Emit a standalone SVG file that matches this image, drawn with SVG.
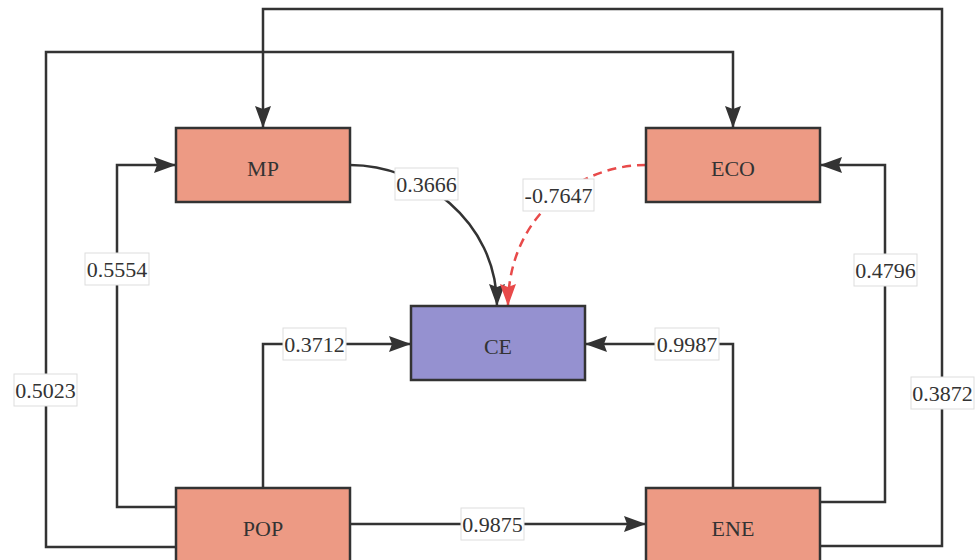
<svg xmlns="http://www.w3.org/2000/svg" width="979" height="560" viewBox="0 0 979 560">
<style>
.bg{fill:#ffffff}
.edge{fill:none;stroke:#333333;stroke-width:2.5;stroke-linejoin:miter}
.neg{fill:none;stroke:#e84a4a;stroke-width:2.5;stroke-dasharray:9,6}
.node rect{stroke:#333333;stroke-width:2.5}
.warm{fill:#ED9A84}
.cool{fill:#9591D0}
.ntext{font-family:"Liberation Serif","Times New Roman",serif;font-size:22px;fill:#333333;text-anchor:middle}
.lbox{fill:#ffffff;stroke:#dddddd;stroke-width:1}
.ltext{font-family:"Liberation Serif","Times New Roman",serif;font-size:22px;fill:#333333;text-anchor:middle}
</style>
<defs>
<marker id="ah" markerUnits="userSpaceOnUse" markerWidth="22" markerHeight="16" refX="22" refY="8" orient="auto" viewBox="0 0 22 16">
<path d="M0,0 L22,8 L0,16 L3,8 Z" fill="#333333"/>
</marker>
<marker id="ahr" markerUnits="userSpaceOnUse" markerWidth="22" markerHeight="16" refX="22" refY="8" orient="auto" viewBox="0 0 22 16">
<path d="M0,0 L22,8 L0,16 L3,8 Z" fill="#e84a4a"/>
</marker>
</defs>
<rect class="bg" x="0" y="0" width="979" height="560"/>
<g id="connectors">
<path class="edge" d="M820,546 H942 V9 H263 V128" marker-end="url(#ah)"/>
<path class="edge" d="M176,547 H46 V52 H733 V128" marker-end="url(#ah)"/>
<path class="edge" d="M176,507 H117 V165 H176" marker-end="url(#ah)"/>
<path class="edge" d="M263,488 V344 H411" marker-end="url(#ah)"/>
<path class="edge" d="M350,524 H646" marker-end="url(#ah)"/>
<path class="edge" d="M733,488 V344 H585" marker-end="url(#ah)"/>
<path class="edge" d="M820,502 H885 V165 H820" marker-end="url(#ah)"/>
<path class="edge" d="M350,165 C420,165 497,220 497,306" marker-end="url(#ah)"/>
<path class="neg" d="M646,165 C580,165 508,215 508,306" marker-end="url(#ahr)"/>
</g>
<g id="MP" class="node"><rect class="warm" x="176" y="128" width="174" height="74"/><text class="ntext" x="263" y="176">MP</text></g>
<g id="ECO" class="node"><rect class="warm" x="646" y="128" width="174" height="74"/><text class="ntext" x="733" y="176">ECO</text></g>
<g id="CE" class="node"><rect class="cool" x="411" y="306" width="174" height="74"/><text class="ntext" x="498" y="354">CE</text></g>
<g id="POP" class="node"><rect class="warm" x="176" y="488" width="174" height="74"/><text class="ntext" x="263" y="536">POP</text></g>
<g id="ENE" class="node"><rect class="warm" x="646" y="488" width="174" height="74"/><text class="ntext" x="733" y="536">ENE</text></g>
<g id="labels">
<rect class="lbox" x="395" y="168" width="63" height="32"/><text class="ltext" x="426.5" y="192">0.3666</text>
<rect class="lbox" x="523" y="179" width="71" height="32"/><text class="ltext" x="558.5" y="203">-0.7647</text>
<rect class="lbox" x="14" y="374" width="63" height="32"/><text class="ltext" x="45.5" y="398">0.5023</text>
<rect class="lbox" x="85" y="253" width="64" height="32"/><text class="ltext" x="117" y="277">0.5554</text>
<rect class="lbox" x="283" y="328" width="63" height="32"/><text class="ltext" x="314.5" y="352">0.3712</text>
<rect class="lbox" x="655" y="328" width="64" height="32"/><text class="ltext" x="687" y="352">0.9987</text>
<rect class="lbox" x="854" y="254" width="63" height="32"/><text class="ltext" x="885.5" y="278">0.4796</text>
<rect class="lbox" x="911" y="377" width="63" height="32"/><text class="ltext" x="942.5" y="401">0.3872</text>
<rect class="lbox" x="461" y="508" width="63" height="32"/><text class="ltext" x="492.5" y="532">0.9875</text>
</g>
</svg>
